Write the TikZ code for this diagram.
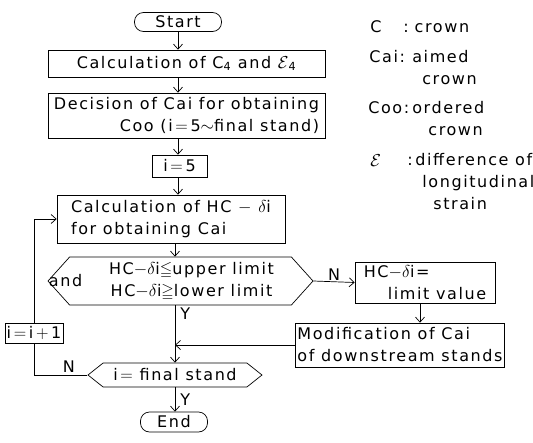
\documentclass[tikz,border=0pt]{standalone}
\usepackage{amssymb}
\usepackage{fontspec}
\setmainfont{DejaVu Sans}[LetterSpace=10]
\usetikzlibrary{arrows.meta,shapes.symbols,positioning}
\tikzset{
  box/.style={draw,rectangle,inner sep=3pt},
  term/.style={draw,rectangle,rounded corners=9pt,inner sep=2pt},
  cond/.style={draw,signal,signal to=west and east,inner sep=2pt},
  lbl/.style={inner sep=1pt},
  legend/.style={anchor=base west,align=left,inner sep=0pt},
}
\newcommand{\hcd}{HC$-\delta$i}

\begin{document}
\begin{tikzpicture}[x=1pt,y=-1pt,line width=0.7pt,
  >={Straight Barb[length=5pt,width=9pt]},
  font=\fontsize{16}{22}\selectfont]
\useasboundingbox (0,0) rectangle (533,442);
% main column
\node (start) [term,minimum width=87pt,minimum height=19pt] at (178,22) {Start};
\node (calc) [box,minimum width=277pt,minimum height=27pt] at (186.5,63.5)
  {Calculation of C\textsubscript{4} and $\mathcal{E}$\textsubscript{4}};
\node (dec) [box,minimum width=277pt,minimum height=45pt,align=right,inner sep=2pt] at (186.5,115.5)
  {Decision of Cai for obtaining\\Coo (i\,$=$\,5$\sim$final stand)};
\node (ifive) [box,minimum width=55pt,minimum height=22pt,inner sep=1pt] at (179.5,166) {i\,$=$\,5};
\node (hc) [box,minimum width=228pt,minimum height=48pt,align=left] at (171,219)
  {Calculation of HC $-$ $\delta$i\\for obtaining Cai};
\node (chk) [cond,signal pointer angle=96,minimum width=265pt,minimum height=42pt] at (180.5,281)
  {\hspace*{22pt}\begin{tabular}{@{}c@{}}\hcd$\leqq$upper limit\\\hcd$\geqq$lower limit\end{tabular}};
\node (and) [lbl,anchor=west] at (chk.west) {and};
\node (lim) [box,minimum width=140pt,minimum height=41pt,align=left,inner sep=2pt] at (425,282.5)
  {\hcd=\\\hspace*{24pt}limit value};
\node (mod) [box,minimum width=206pt,minimum height=44pt,align=left,inner sep=2pt] at (400,345)
  {Modification of Cai\\of downstream stands};
\node (fin) [cond,signal pointer angle=77,minimum width=174pt,minimum height=24pt,inner sep=1pt] at (175,375)
  {i\,$=$ final stand};
\node (end) [term,minimum width=67pt,minimum height=20pt,inner sep=1pt] at (174,422) {End};
\node (inc) [box,minimum width=58pt,minimum height=20pt,inner sep=1pt,fill=white] at (34,333) {i\,$=$\,i\,$+$\,1};
%
\draw[->] (start.south) -- (start.south |- calc.north);
\draw[->] (start.south |- calc.south) -- (start.south |- dec.north);
\draw[->] (start.south |- dec.south) -- (start.south |- ifive.north);
\draw[->] (start.south |- ifive.south) -- (start.south |- hc.north);
\draw[->] (fin.north |- hc.south) -- (fin.north |- chk.north);
%
\draw[->] (chk.east) -- node[lbl,above] {N} (lim.west);
\draw[->] ([xshift=-5pt]lim.south) -- ([xshift=-5pt]lim.south |- mod.north);
\draw[->] (fin.north |- chk.south) -- node[lbl,pos=0.15,right=4pt] {Y} (fin.north);
\draw[->] (mod.west) -- (mod.west -| fin.north);
\draw[->] (fin.south) -- node[lbl,midway,right=4pt] {Y} (fin.south |- end.north);
\draw (fin.west) -- node[lbl,pos=0.35,above=1pt] {N} (fin.west -| inc.south) -- (inc.south);
\draw[->] (inc.north) |- (hc.west);
% legend (base = last line)
\node (sc) [legend] at (370,32) {C};
\node (dc) [legend] at (403,32) {:\hspace*{6pt}crown};
\node (sai) [legend] at (369,62) {Cai:};
\node (dai) [legend] at (412,84) {aimed\\\hspace*{10pt}crown};
\node (soo) [legend] at (368,113) {Coo:};
\node (doo) [legend] at (412,135) {ordered\\\hspace*{16pt}crown};
\node (seps) [legend] at (370,166) {$\mathcal{E}$};
\node (deps) [legend] at (407,209) {:\,difference of\\\hspace*{15pt}longitudinal\\\hspace*{26pt}strain};
\end{tikzpicture}
\end{document}
